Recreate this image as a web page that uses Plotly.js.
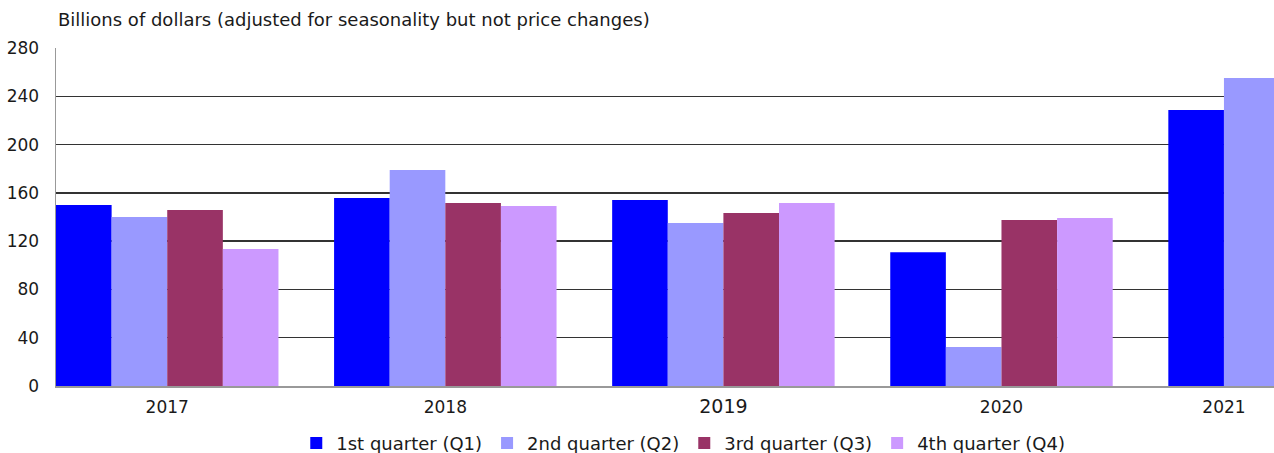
<!DOCTYPE html>
<html>
<head>
<meta charset="utf-8">
<script src="https://cdn.plot.ly/plotly-3.0.1.min.js"></script>
<style>
  html, body { margin: 0; padding: 0; background: #fff; }
  #chart { width: 1274px; height: 453px; }
</style>
</head>
<body>
<div id="chart"></div>
<script>
// ---- Data ----
const years = [2017, 2018, 2019, 2020, 2021];
const seriesNames = ["1st quarter (Q1)", "2nd quarter (Q2)", "3rd quarter (Q3)", "4th quarter (Q4)"];
const q1 = [150.0, 155.7, 154.0, 110.9, 228.6];
const q2 = [140.0, 178.9, 135.0, 32.3, 255.1];
const q3 = [145.8, 151.6, 143.3, 137.5, null];
const q4 = [113.5, 149.1, 151.6, 139.1, null];
const yTicks = [0, 40, 80, 120, 160, 200, 240, 280];
const yAxisLabel = "Billions of dollars (adjusted for seasonality but not price changes)";

const colors = ["#0000FF", "#9999FF", "#993366", "#CC99FF"];
const FONT = "'DejaVu Sans', 'Open Sans', sans-serif";

const allSeries = [q1, q2, q3, q4];
const traces = allSeries.map((vals, i) => ({
  type: "bar",
  name: seriesNames[i],
  x: years,
  y: vals,
  marker: { color: colors[i], line: { width: 0 } },
  hoverinfo: "x+y+name"
}));

// 2021 only shows its first two quarters; centre its label under them
const lastYear = years[years.length - 1];
const tickvals = years.map(y => (y === lastYear ? y - 0.2 : y));
const ticktext = years.map(y => (y === 2019 ? '<span style="font-size:19px">' + y + '</span>' : String(y)));

const layout = {
  width: 1274,
  height: 453,
  margin: { l: 56, r: 0, t: 48, b: 67, pad: 0, autoexpand: false },
  paper_bgcolor: "#ffffff",
  plot_bgcolor: "#ffffff",
  font: { family: FONT, size: 17, color: "#1a1a1a" },
  barmode: "group",
  bargap: 0.2,
  bargroupgap: 0,
  showlegend: true,
  legend: {
    orientation: "h",
    x: 0.515, xanchor: "center",
    y: -0.115, yanchor: "top",
    font: { family: FONT, size: 18, color: "#1a1a1a" },
    traceorder: "normal",
    itemclick: false
  },
  xaxis: {
    type: "linear",
    range: [years[0] - 0.4, lastYear - 0.02],
    tickmode: "array",
    tickvals: tickvals,
    ticktext: ticktext,
    ticks: "",
    ticklabelstandoff: 5,
    showgrid: false,
    zeroline: false,
    showline: true,
    linecolor: "#999999",
    linewidth: 1.5,
    tickfont: { family: FONT, size: 17, color: "#1a1a1a" },
    fixedrange: true
  },
  yaxis: {
    range: [0, 280],
    tickmode: "array",
    tickvals: yTicks,
    ticks: "",
    ticklabelstandoff: 12,
    showgrid: true,
    gridcolor: "#333333",
    gridwidth: 1.5,
    zeroline: false,
    showline: true,
    linecolor: "#999999",
    linewidth: 1.5,
    tickfont: { family: FONT, size: 17, color: "#1a1a1a" },
    fixedrange: true
  },
  annotations: [{
    text: yAxisLabel,
    xref: "paper", yref: "paper",
    x: 0, xanchor: "left",
    y: 1.084, yanchor: "middle",
    showarrow: false,
    font: { family: FONT, size: 18, color: "#1a1a1a" }
  }]
};

Plotly.newPlot("chart", traces, layout, { displayModeBar: false, staticPlot: true });
</script>
</body>
</html>
